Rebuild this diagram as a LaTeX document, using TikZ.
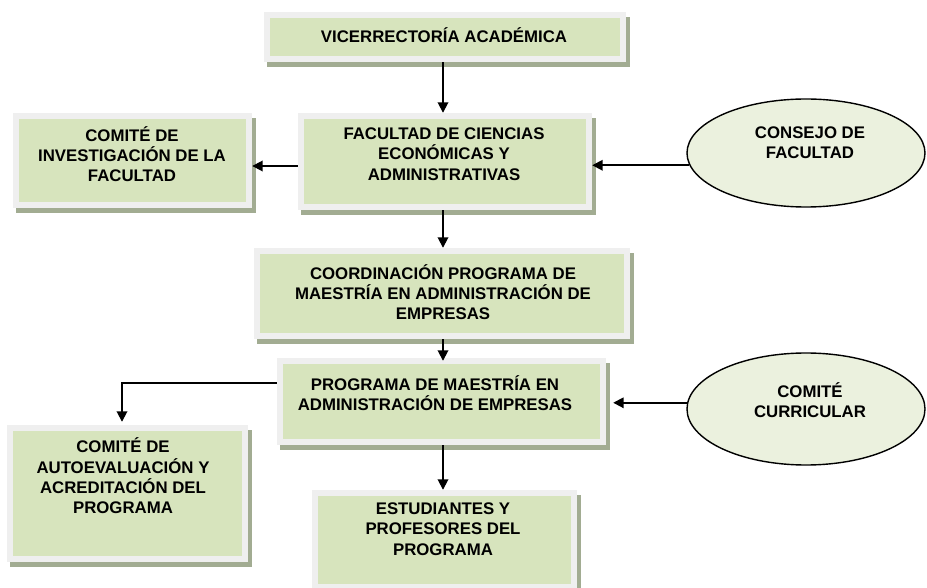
\documentclass[tikz,border=0pt]{standalone}
\usepackage{fontspec}
\setmainfont{Liberation Sans}
\usetikzlibrary{arrows.meta,calc,shapes.geometric}
\definecolor{boxgreen}{HTML}{D7E4BD}
\definecolor{framegray}{HTML}{EFEFEF}
\definecolor{shadowc}{HTML}{A2AC92}
\definecolor{ellfill}{HTML}{EBF1DE}
\tikzset{
  frame/.style={rectangle, fill=framegray, draw=none, inner sep=0pt},
  oval/.style={ellipse, draw=black, line width=1.4pt, fill=ellfill, inner sep=0pt, minimum width=238pt},
  lbl/.style={align=center, font=\fontsize{16.8}{20.3}\selectfont\bfseries, text=black, inner sep=0pt},
  arr/.style={line width=1.8pt, -{Triangle[length=10.5pt,width=10.5pt]}}
}
\newcommand{\obox}[5]{%
  \fill[shadowc] (#2-#4/2+3,#3-#5/2+5) rectangle (#2+#4/2+4,#3+#5/2+5);
  \node[frame, minimum width=#4pt, minimum height=#5pt] (#1) at (#2,#3) {};
  \fill[boxgreen] ($(#1.north west)+(6,6)$) rectangle ($(#1.south east)+(-6,-6)$);
}
\begin{document}
\begin{tikzpicture}[x=1pt,y=-1pt]
\useasboundingbox[fill=white] (0,0) rectangle (927,588);
% boxes
\obox{vice}{445}{37}{362}{50}
\obox{fac}{445}{161.5}{294}{97}
\obox{inv}{132.5}{160.5}{239}{95}
\obox{coord}{442}{293.5}{376}{91}
\obox{prog}{441.5}{401.5}{329}{87}
\obox{auto}{127.5}{493.5}{241}{137}
\obox{est}{444.5}{540}{265}{100}
% ellipses
\node[oval, minimum height=108pt] (cons) at (806,153) {};
\node[oval, minimum height=112pt] (curr) at (806,409) {};
% texts
\node[lbl] (tvice) at (444,35) {VICERRECTORÍA ACADÉMICA};
\node[lbl] (tfac) at (444,154) {FACULTAD DE CIENCIAS\\ECONÓMICAS Y\\ADMINISTRATIVAS};
\node[lbl] (tinv) at (132,154) {COMITÉ DE\\INVESTIGACIÓN DE LA\\FACULTAD};
\node[lbl] (tcons) at (810,143) {CONSEJO DE\\FACULTAD};
\node[lbl] (tcoord) at (443,292) {COORDINACIÓN PROGRAMA DE\\MAESTRÍA EN ADMINISTRACIÓN DE\\EMPRESAS};
\node[lbl] (tprog) at (435,393) {PROGRAMA DE MAESTRÍA EN\\ADMINISTRACIÓN DE EMPRESAS};
\node[lbl] (tauto) at (123,476) {COMITÉ DE\\AUTOEVALUACIÓN Y\\ACREDITACIÓN DEL\\PROGRAMA};
\node[lbl] (test) at (443,529) {ESTUDIANTES Y\\PROFESORES DEL\\PROGRAMA};
\node[lbl] (tcurr) at (810,400) {COMITÉ\\CURRICULAR};
% connectors
\coordinate (ctip) at ([xshift=7pt]prog.east);
\draw[arr] ([xshift=-2pt]vice.south) -- ([xshift=-2pt]fac.north);
\draw[arr] ([yshift=-4.5pt]fac.west) -- ([yshift=-4.5pt]fac.west -| inv.east);
\draw[arr] (cons.186.4) -- (cons.186.4 -| fac.east);
\draw[arr] ([xshift=-2pt]fac.south) -- ([xshift=-2pt]fac.south |- coord.north);
\draw[arr] ([xshift=1pt]coord.south) -- ([xshift=1pt,yshift=-3pt]coord.south |- prog.north);
\draw[arr] ([yshift=18.5pt]prog.west) -| ([xshift=-5.5pt,yshift=3pt]auto.north);
\draw[arr] (curr.177) -- (curr.177 -| ctip);
\draw[arr] ([xshift=1.5pt]prog.south) -- ([xshift=1.5pt]prog.south |- est.north);
\end{tikzpicture}
\end{document}
